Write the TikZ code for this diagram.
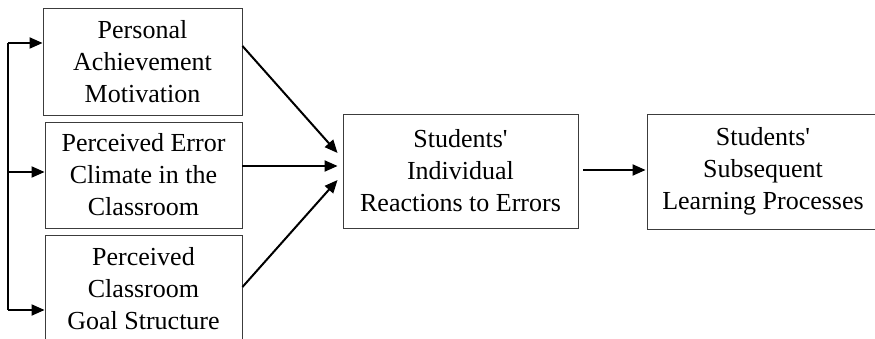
\documentclass[tikz,border=0pt]{standalone}
\usepackage{fontspec}
\setmainfont{Liberation Serif}
\definecolor{boxline}{RGB}{60, 60, 60}
\usetikzlibrary{arrows.meta, positioning, calc}

\begin{document}
\begin{tikzpicture}[x=1pt, y=-1pt,
  factor/.style={draw=boxline, line width=0.9pt, align=center, inner sep=0pt,
    font=\fontsize{26}{32}\selectfont},
  link/.style={line width=2pt, -{Triangle[length=13pt, width=11pt]}}]
  \useasboundingbox (0, 0) rectangle (875, 339);

  % Antecedents
  \node[factor, minimum width=199, minimum height=107] (pers) at (142.5, 61.5)
    {Personal\\Achievement\\Motivation};
  \node[factor, minimum width=197, minimum height=106] (clim) at (143.5, 175)
    {Perceived Error\\Climate in the\\Classroom};
  \node[factor, minimum width=197, minimum height=107] (goal) at (143.5, 288.5)
    {Perceived\\Classroom\\Goal Structure};

  % Reactions and outcomes
  \node[factor, minimum width=235, minimum height=114] (react) at (460.5, 171)
    {Students\textquotesingle\\Individual\\Reactions to Errors};
  \node[factor, minimum width=232, minimum height=115] (learn) at (763, 171.5)
    {Students\textquotesingle\\Subsequent\\Learning Processes};

  % Common bracket on the left
  \coordinate (bt) at (8, 43);
  \coordinate (bm) at (8, 172);
  \coordinate (bb) at (8, 310);
  \draw[line width=2pt] (bt) -- (bb);
  \draw[link] (bt) -- (bt -| pers.west);
  \draw[link] (bm) -- (bm -| clim.west);
  \draw[link] (bb) -- (bb -| goal.west);

  % Paths into the reactions
  \coordinate (tipa) at ($(react.west)+(-5, -18)$);
  \coordinate (tipb) at ($(react.west)+(-5, -5)$);
  \coordinate (tipc) at ($(react.west)+(-5, 9)$);
  \draw[link] ($(pers.east)+(0, -15.5)$) -- (tipa);
  \draw[link] (tipb -| clim.east) -- (tipb);
  \draw[link] ($(goal.east)+(0, -1.5)$) -- (tipc);

  % Reactions to learning
  \draw[link] ($(react.east)+(5, -1)$) -- ($(learn.west)+(-1, -1.5)$);
\end{tikzpicture}
\end{document}
